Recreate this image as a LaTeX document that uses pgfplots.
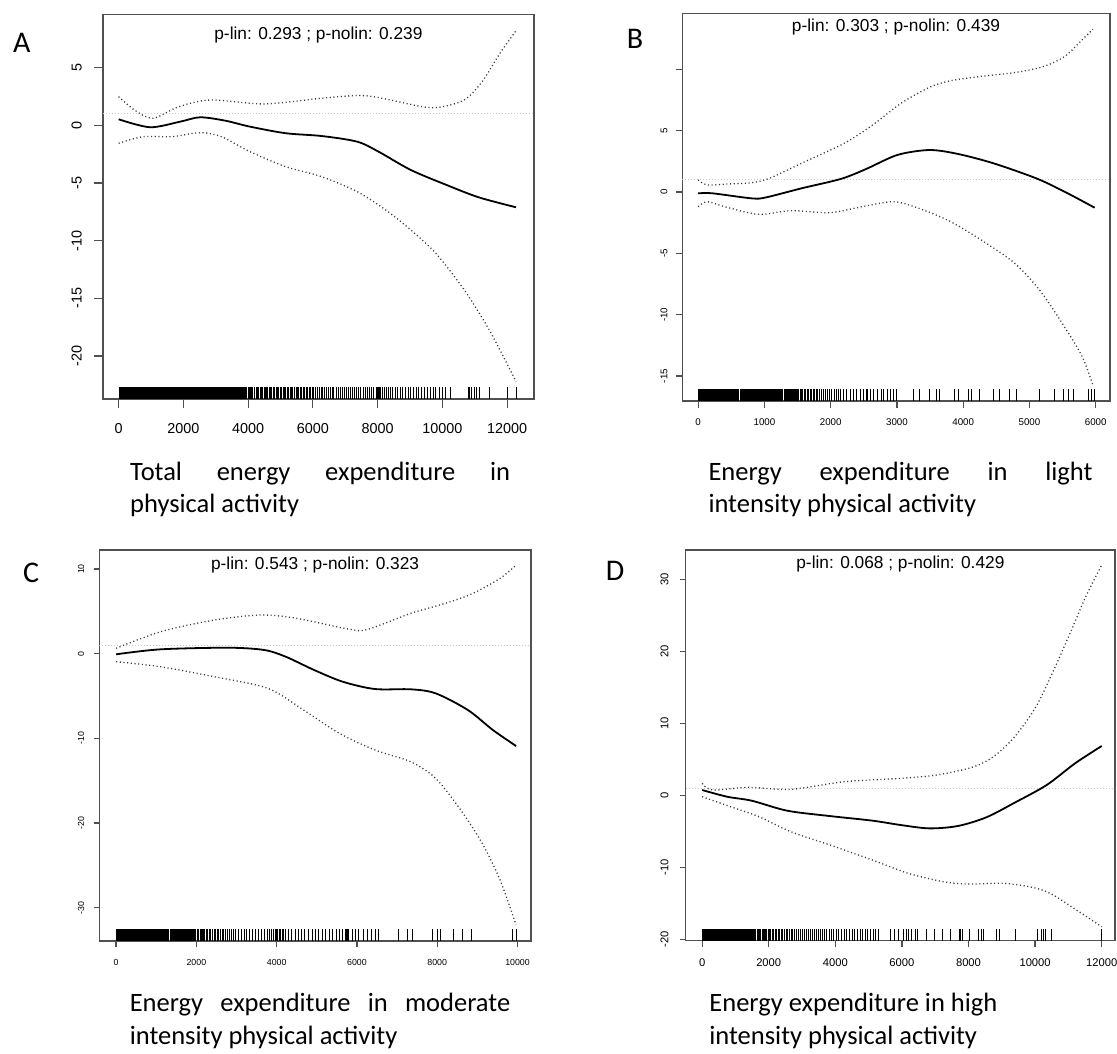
\documentclass[border=0pt]{standalone}
\usepackage{fontspec}
\setmainfont{Carlito}
\newfontfamily\rfont{Liberation Sans}
\usepackage{pgfplots}
\pgfplotsset{compat=1.18}

\definecolor{boxgray}{RGB}{80,80,80}
\definecolor{refgray}{RGB}{200,200,200}
\definecolor{cigray}{RGB}{60,60,60}

\pgfplotsset{
  rplot/.style={
    scale only axis, anchor=north west,
    axis line style={draw=boxgray, line width=1.2pt},
    tick style={draw=boxgray, line width=1.2pt},
    tick align=outside, xtick pos=bottom, ytick pos=left,
    minor tick num=0, scaled ticks=false,
    tick label style={inner sep=0pt},
    xticklabel style={anchor=north},
    yticklabel style={rotate=90, anchor=south},
  },
  fit/.style={black, line width=1.8pt, smooth, tension=0.5, no marks},
  ci/.style={cigray, line width=1.3pt, dash pattern=on 1.1pt off 2.6pt, smooth, tension=0.5, no marks},
  ref/.style={refgray, line width=0.9pt, dash pattern=on 1pt off 2pt, no marks},
  rug/.style={only marks, mark=|, mark options={line width=0.9pt, draw=black}},
  rugblock/.style={fill=black, draw=none, no marks},
}

\newcommand\pfont{\rfont\fontsize{17.3}{20}\selectfont}
\newcommand\capfont{\fontsize{26.5}{33}\selectfont}
\newcommand\letfont{\fontsize{30}{34}\selectfont}

\begin{document}
\begin{tikzpicture}
\useasboundingbox (0,0) rectangle (1117pt,-1053pt);

%% A: total energy expenditure
\begin{axis}[rplot, at={(102.9pt,-14.7pt)}, width=431pt, height=384.3pt,
  xmin=-485, xmax=12826, ymin=-23.72, ymax=9.58,
  xtick={0,2000,4000,6000,8000,10000,12000},
  xticklabels={0,2000,4000,6000,8000,10000,12000},
  ytick={-20,-15,-10,-5,0,5}, yticklabels={-20,-15,-10,-5,0,5},
  major tick length=9pt,
  tick label style={font=\rfont\fontsize{14.4}{16}\selectfont},
  xticklabel shift=14.85pt, yticklabel shift=12pt]
\addplot[ref] coordinates {(-485,1)(12826,1)};
\addplot[ci] coordinates {(0,2.48)(500,1.3)(1060,0.6)(1850,1.6)(2840,2.19)(4500,1.85)(6264,2.34)(7367,2.58)(8030,2.4)(9353,1.62)(9903,1.56)(10675,2.19)(11227,3.78)(11778,6.24)(12276,8.2)};
\addplot[ci] coordinates {(0,-1.56)(760,-0.99)(1650,-0.99)(2514,-0.64)(3176,-0.99)(4058,-2.29)(5161,-3.59)(6264,-4.45)(7367,-5.75)(8250,-7.34)(9022,-9.07)(9794,-11.09)(10675,-14.27)(11448,-17.74)(12276,-22.2)};
\addplot[fit] coordinates {(0,0.52)(970,-0.17)(1900,0.31)(2514,0.69)(3290,0.4)(4058,-0.12)(5161,-0.69)(6264,-0.93)(7367,-1.42)(8030,-2.29)(9022,-3.87)(10124,-5.17)(11118,-6.24)(12276,-7.11)};
\addplot[rugblock] coordinates {(0,-23.72)(3956,-23.72)(3956,-22.72)(0,-22.72)};
\addplot[rug, mark size=5.76pt] table[row sep=\\, y expr=-23.22] {x\\
4010\\4040\\4070\\4110\\4140\\4180\\4210\\4260\\4300\\4330\\4370\\4420\\4450\\4500\\4540\\4580\\4610\\4660\\4700\\4730\\4770\\4820\\4860\\4900\\4950\\4990\\5030\\5080\\5120\\5160\\5210\\5250\\5300\\5340\\5380\\5430\\5480\\5520\\5560\\5610\\5650\\5700\\5740\\5790\\5830\\5880\\5930\\5980\\
6030\\6080\\6140\\6190\\6250\\6300\\6360\\6420\\6470\\6530\\6600\\6650\\6720\\6780\\6840\\6900\\6960\\7030\\7100\\7160\\7220\\7290\\7350\\7420\\7480\\7550\\7620\\7680\\7750\\7820\\7880\\7950\\
8000\\8030\\8060\\8100\\8150\\8200\\8260\\8330\\8400\\8470\\8550\\8620\\8700\\8780\\8860\\8940\\9020\\9100\\9190\\9270\\9360\\9440\\9530\\9620\\9710\\9800\\9900\\10000\\10100\\10250\\
10800\\10850\\10900\\10980\\11060\\11130\\11450\\12000\\12290\\};
\end{axis}

%% B: light intensity
\begin{axis}[rplot, at={(682.2pt,-13.3pt)}, width=427.7pt, height=387.7pt,
  xmin=-241, xmax=6214, ymin=-17.03, ymax=14.56,
  xtick={0,1000,2000,3000,4000,5000,6000},
  xticklabels={0,1000,2000,3000,4000,5000,6000},
  ytick={-15,-10,-5,0,5,10}, yticklabels={-15,-10,-5,0,5,{}},
  major tick length=6.6pt,
  tick label style={font=\rfont\fontsize{9.75}{11}\selectfont},
  xticklabel shift=10.9pt, yticklabel shift=7.9pt]
\addplot[ref] coordinates {(-241,1)(6214,1)};
\addplot[ci] coordinates {(0,0.98)(139,0.57)(434,0.65)(810,0.76)(1078,1.12)(1560,2.34)(2204,3.97)(2633,5.46)(3062,7.23)(3491,8.53)(3812,9.07)(4241,9.4)(4777,9.73)(5206,10.21)(5528,11.03)(5743,12.12)(5957,13.26)};
\addplot[ci] coordinates {(0,-1.2)(139,-0.79)(434,-1.25)(917,-1.82)(1400,-1.52)(1989,-1.68)(2525,-1.14)(2954,-0.79)(3330,-1.33)(3812,-2.42)(4349,-4.18)(4777,-5.81)(5153,-7.99)(5528,-10.98)(5796,-13.42)(5957,-15.73)};
\addplot[fit] coordinates {(0,-0.11)(220,-0.11)(810,-0.52)(1024,-0.44)(1560,0.3)(2150,1.06)(2525,1.85)(3008,3.02)(3491,3.42)(3920,3.1)(4456,2.34)(5099,1.12)(5528,0.03)(5984,-1.28)};
\addplot[rugblock] coordinates {(0,-17.03)(622,-17.03)(622,-16.08)(0,-16.08)};
\addplot[rugblock] coordinates {(638,-17.03)(1275,-17.03)(1275,-16.08)(638,-16.08)};
\addplot[rugblock] coordinates {(1291,-17.03)(1484,-17.03)(1484,-16.08)(1291,-16.08)};
\addplot[rug, mark size=5.8pt] table[row sep=\\, y expr=-16.56] {x\\
1500\\1520\\1540\\1560\\1580\\1600\\1625\\1650\\1670\\1690\\1710\\1735\\1760\\1780\\1800\\1830\\1860\\1890\\1920\\1950\\1980\\2010\\2050\\2080\\2110\\2150\\2190\\2240\\2300\\2350\\2390\\2450\\2500\\2540\\2560\\2600\\2640\\2700\\2760\\2800\\2850\\2900\\2950\\2990\\
3245\\3346\\3497\\3597\\3648\\3874\\3924\\4075\\4125\\4251\\4452\\4553\\4704\\4805\\5157\\5383\\5509\\5584\\5660\\5886\\5937\\5987\\};
\end{axis}

%% C: moderate intensity
\begin{axis}[rplot, at={(99.3pt,-550pt)}, width=431.7pt, height=391pt,
  xmin=-418, xmax=10336, ymin=-33.93, ymax=12.25,
  xtick={0,2000,4000,6000,8000,10000},
  xticklabels={0,2000,4000,6000,8000,10000},
  ytick={-30,-20,-10,0,10}, yticklabels={-30,-20,-10,0,10},
  major tick length=5.7pt,
  tick label style={font=\rfont\fontsize{8.8}{10}\selectfont},
  xticklabel shift=12.8pt, yticklabel shift=9.1pt]
\addplot[ref] coordinates {(-418,1)(10336,1)};
\addplot[ci] coordinates {(0,0.64)(1111,2.6)(2447,3.98)(3603,4.57)(4493,4.18)(5828,2.88)(6273,2.88)(7340,4.77)(8142,5.87)(8854,7.05)(9566,8.9)(9965,10.48)};
\addplot[ci] coordinates {(0,-0.94)(1111,-1.54)(2447,-2.72)(3781,-4.09)(4671,-6.65)(5561,-9.4)(6450,-11.37)(7340,-12.76)(7962,-14.72)(8586,-18.46)(9120,-22.39)(9566,-26.73)(9965,-32.04)};
\addplot[fit] coordinates {(0,-0.07)(1111,0.52)(2802,0.71)(3692,0.44)(4225,-0.35)(4937,-1.93)(5650,-3.31)(6450,-4.17)(7340,-4.2)(7962,-4.68)(8764,-6.65)(9387,-9.01)(9965,-10.9)};
\addplot[rugblock] coordinates {(0,-33.93)(1328,-33.93)(1328,-32.54)(0,-32.54)};
\addplot[rugblock] coordinates {(1342,-33.93)(1640,-33.93)(1640,-32.54)(1342,-32.54)};
\addplot[rugblock] coordinates {(1654,-33.93)(2002,-33.93)(2002,-32.54)(1654,-32.54)};
\addplot[rug, mark size=5.87pt] table[row sep=\\, y expr=-33.24] {x\\
2030\\2060\\2090\\2120\\2150\\2180\\2210\\2240\\2270\\2320\\2360\\2400\\2440\\2480\\2520\\2560\\2600\\2640\\2680\\2720\\2770\\2820\\2870\\2920\\2970\\3040\\3120\\3200\\3260\\3330\\3400\\3460\\3540\\3620\\3700\\3760\\3820\\3880\\3920\\3960\\3990\\4030\\4070\\4100\\4140\\4180\\4230\\4300\\4380\\4460\\4540\\4620\\4700\\4790\\4880\\4960\\5050\\5130\\5220\\5310\\5400\\5480\\5560\\5650\\5720\\5740\\5760\\5800\\5880\\5960\\6050\\6150\\6250\\6350\\6450\\6530\\
7029\\7252\\7385\\7875\\8008\\8070\\8409\\8631\\8854\\9877\\9966\\};
\end{axis}

%% D: high intensity
\begin{axis}[rplot, at={(685.8pt,-550pt)}, width=429.2pt, height=390.7pt,
  xmin=-490, xmax=12400, ymin=-20.19, ymax=34.07,
  xtick={0,2000,4000,6000,8000,10000,12000},
  xticklabels={0,2000,4000,6000,8000,10000,12000},
  ytick={-20,-10,0,10,20,30}, yticklabels={-20,-10,0,10,20,30},
  major tick length=6pt,
  tick label style={font=\rfont\fontsize{11.2}{13}\selectfont},
  xticklabel shift=12pt, yticklabel shift=11pt]
\addplot[ref] coordinates {(-490,1)(12400,1)};
\addplot[ci] coordinates {(0,1.66)(320,0.74)(1387,1.11)(2667,0.83)(4267,1.89)(5973,2.36)(7040,2.82)(8107,3.89)(8747,5.36)(9387,8.14)(10027,12.31)(10560,17.4)(11093,22.96)(11520,27.58)(12000,31.99)};
\addplot[ci] coordinates {(0,-0.19)(853,-1.58)(1707,-2.97)(2667,-5.06)(3840,-6.9)(5120,-8.99)(6187,-10.83)(7253,-12)(8000,-12.32)(9067,-12.22)(9920,-12.78)(10453,-13.61)(11093,-15.47)(12000,-18.25)};
\addplot[fit] coordinates {(0,0.74)(747,-0.19)(1493,-0.75)(2560,-2.14)(3840,-2.88)(5120,-3.52)(5973,-4.13)(6827,-4.59)(7680,-4.26)(8533,-3.06)(9387,-1.02)(10347,1.43)(11200,4.44)(12000,6.85)};
\addplot[rugblock] coordinates {(0,-20.19)(1610,-20.19)(1610,-18.56)(0,-18.56)};
\addplot[rug, mark size=5.86pt] table[row sep=\\, y expr=-19.38] {x\\
1650\\1690\\1720\\1760\\1800\\1830\\1860\\1900\\1940\\1980\\2020\\2060\\2100\\2140\\2190\\2230\\2280\\2320\\2370\\2420\\2470\\2520\\2570\\2620\\2670\\2720\\2770\\2820\\2880\\2940\\3000\\3060\\3120\\3180\\3240\\3300\\3360\\3420\\3480\\3540\\3600\\3670\\3740\\3810\\3880\\3950\\4020\\4100\\4180\\4260\\4340\\4420\\4500\\4580\\4660\\4740\\4820\\4900\\4980\\5060\\5140\\5220\\5300\\
5650\\5790\\5900\\6050\\6144\\6195\\6297\\6396\\6465\\6748\\6967\\7216\\7450\\7729\\7771\\7811\\8024\\8295\\8376\\8445\\8826\\8916\\9417\\10078\\10198\\10246\\10297\\10498\\12003\\};
\end{axis}

%% p-values
\node[anchor=base, inner sep=0] at (318.4pt,-39.5pt) {\pfont p-lin: 0.293 ; p-nolin: 0.239};
\node[anchor=base, inner sep=0] at (896pt,-31.9pt) {\pfont p-lin: 0.303 ; p-nolin: 0.439};
\node[anchor=base, inner sep=0] at (315.1pt,-569.5pt) {\pfont p-lin: 0.543 ; p-nolin: 0.323};
\node[anchor=base, inner sep=0] at (900.4pt,-568.5pt) {\pfont p-lin: 0.068 ; p-nolin: 0.429};

%% panel letters
\node[anchor=base, inner sep=0] at (21.7pt,-52.7pt) {\letfont A};
\node[anchor=base, inner sep=0] at (635pt,-48.7pt) {\letfont B};
\node[anchor=base, inner sep=0] at (31pt,-582.7pt) {\letfont C};
\node[anchor=base, inner sep=0] at (615pt,-580pt) {\letfont D};

%% captions
\node[anchor=base west, inner sep=0] at (130pt,-480pt) {\capfont\makebox[380pt][s]{Total energy expenditure in}};
\node[anchor=base west, inner sep=0] at (130pt,-512pt) {\capfont physical activity};
\node[anchor=base west, inner sep=0] at (708.3pt,-480pt) {\capfont\makebox[384pt][s]{Energy expenditure in light}};
\node[anchor=base west, inner sep=0] at (708.3pt,-512pt) {\capfont intensity physical activity};
\node[anchor=base west, inner sep=0] at (129.6pt,-1011.5pt) {\capfont\makebox[380.4pt][s]{Energy expenditure in moderate}};
\node[anchor=base west, inner sep=0] at (129.6pt,-1044pt) {\capfont intensity physical activity};
\node[anchor=base west, inner sep=0] at (709.2pt,-1011.5pt) {\capfont Energy expenditure in high};
\node[anchor=base west, inner sep=0] at (709.2pt,-1044pt) {\capfont intensity physical activity};
\end{tikzpicture}
\end{document}
